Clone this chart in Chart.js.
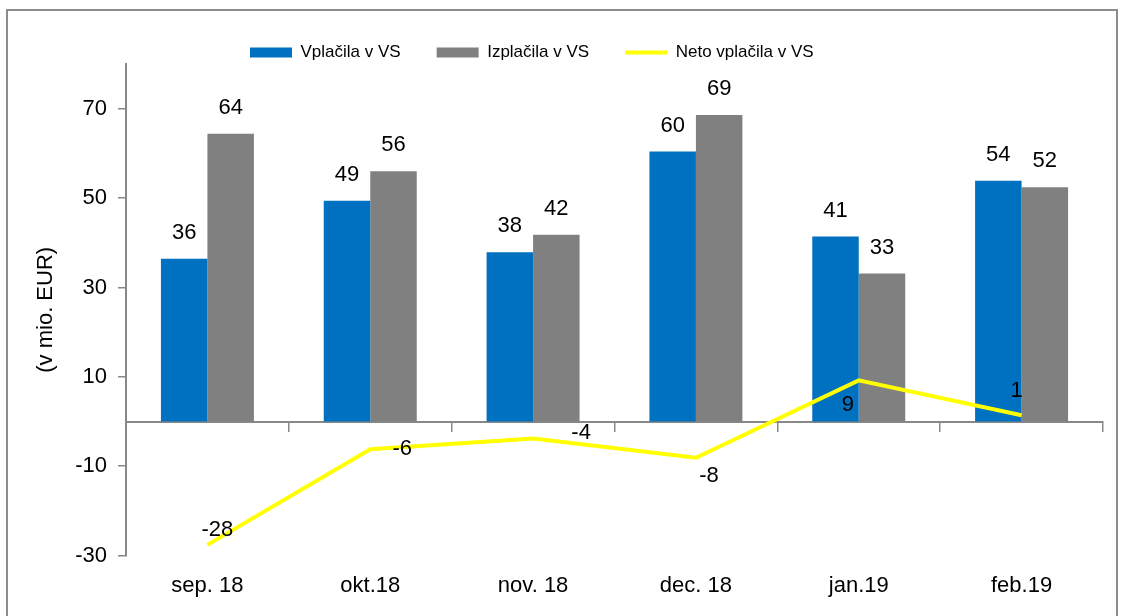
<!DOCTYPE html>
<html>
<head>
<meta charset="utf-8">
<script src="https://cdn.jsdelivr.net/npm/chart.js@4/dist/chart.umd.min.js"></script>
<style>
  html, body { margin: 0; padding: 0; background: #fff; }
  #wrap { position: relative; width: 1123px; height: 616px; overflow: hidden; }
  #frame {
    position: absolute; left: 6px; top: 9px; width: 1112px; height: 660px;
    box-sizing: border-box; border: 2px solid #8c8c8c; pointer-events: none;
  }
  canvas { position: absolute; left: 0; top: 0; }
</style>
</head>
<body>
<div id="wrap">
  <canvas id="chart" width="1123" height="616"></canvas>
  <div id="frame"></div>
</div>
<script>
const months = ['sep. 18', 'okt.18', 'nov. 18', 'dec. 18', 'jan.19', 'feb.19'];
const vplacila = [36.4, 49.4, 37.9, 60.4, 41.4, 53.9];
const izplacila = [64.4, 56.0, 41.8, 68.6, 33.1, 52.4];
const neto = [-27.6, -6.2, -3.8, -8.1, 9.2, 1.4];
const yTicks = [-30, -10, 10, 30, 50, 70];

const BLUE = '#0070C0';
const GREY = '#808080';
const YELLOW = '#FFFF00';
const AXIS = '#888888';

// where the net labels sit relative to their point (as in the original)
const netoLabelOffset = [[10, -15], [32, 0], [48, -6], [13, 18], [-11, 25], [-5, -24]];

Chart.defaults.font.family = "'Liberation Sans', Arial, sans-serif";
Chart.defaults.color = '#000';

const valueLabels = {
  id: 'valueLabels',
  afterDatasetsDraw(chart) {
    const ctx = chart.ctx;
    ctx.save();
    ctx.font = "22px 'Liberation Sans', Arial, sans-serif";
    ctx.fillStyle = '#000';
    ctx.textAlign = 'center';
    ctx.textBaseline = 'middle';
    chart.data.datasets.forEach((ds, i) => {
      const meta = chart.getDatasetMeta(i);
      meta.data.forEach((el, j) => {
        const txt = String(Math.round(ds.data[j]));
        if (ds.type === 'line') {
          const [dx, dy] = netoLabelOffset[j];
          ctx.fillText(txt, el.x + dx, el.y + dy);
        } else {
          ctx.fillText(txt, el.x, el.y - 26);
        }
      });
    });
    ctx.restore();
  }
};

// move the legend so it starts where the original one does
const legendShift = {
  id: 'legendShift',
  afterLayout(chart) {
    const lg = chart.legend;
    if (!lg) return;
    const dx = 250 - 36 - lg.left;
    lg.left += dx;
    lg.right += dx;
  }
};

const ctx = document.getElementById('chart').getContext('2d');
new Chart(ctx, {
  type: 'bar',
  data: {
    labels: months,
    datasets: [
      {
        label: 'Vplačila v VS',
        data: vplacila,
        backgroundColor: BLUE,
        categoryPercentage: 0.571,
        barPercentage: 1,
        order: 1
      },
      {
        label: 'Izplačila v VS',
        data: izplacila,
        backgroundColor: GREY,
        categoryPercentage: 0.571,
        barPercentage: 1,
        order: 1
      },
      {
        type: 'line',
        label: 'Neto vplačila v VS',
        data: neto,
        borderColor: YELLOW,
        backgroundColor: YELLOW,
        borderWidth: 4,
        pointRadius: 0,
        tension: 0,
        order: 0
      }
    ]
  },
  options: {
    responsive: false,
    animation: false,
    layout: { padding: { top: 8, right: 20, bottom: 0, left: 0 } },
    plugins: {
      tooltip: { enabled: false },
      legend: {
        position: 'top',
        align: 'start',
        maxHeight: 56,
        labels: {
          font: { size: 17 },
          color: '#000',
          usePointStyle: true,
          pointStyleWidth: 42,
          boxHeight: 10,
          padding: 36,
          sort: (a, b) => a.datasetIndex - b.datasetIndex,
          generateLabels(chart) {
            const items = Chart.defaults.plugins.legend.labels.generateLabels(chart);
            items.forEach(it => {
              const ds = chart.data.datasets[it.datasetIndex];
              if (ds.type === 'line') {
                it.pointStyle = 'line';
                it.lineWidth = 4;
                it.strokeStyle = YELLOW;
              } else {
                it.pointStyle = 'rect';
                it.lineWidth = 0;
              }
            });
            return items;
          }
        }
      }
    },
    scales: {
      x: {
        position: 'bottom',
        grid: { display: false, drawTicks: false },
        border: { display: false },
        ticks: { font: { size: 22 }, color: '#000', padding: 17, maxRotation: 0 }
      },
      xz: {
        type: 'category',
        labels: months,
        offset: true,
        position: { y: 0 },
        grid: { offset: true, drawOnChartArea: false, tickLength: 9, color: AXIS, lineWidth: 1.5 },
        border: { color: AXIS, width: 2 },
        ticks: { display: false }
      },
      y: {
        min: -30,
        max: 80,
        afterBuildTicks: s => { s.ticks = yTicks.map(v => ({ value: v })); },
        afterFit: s => { s.width = 126; },
        grid: { drawOnChartArea: false, tickLength: 8, color: AXIS, lineWidth: 1.5 },
        border: { color: AXIS, width: 2 },
        ticks: { font: { size: 22 }, color: '#000', padding: 11, callback: v => String(v) },
        title: {
          display: true,
          text: '(v mio. EUR)',
          font: { size: 22 },
          color: '#000',
          padding: { top: 33, bottom: 0 }
        }
      }
    }
  },
  plugins: [valueLabels, legendShift]
});
</script>
</body>
</html>
